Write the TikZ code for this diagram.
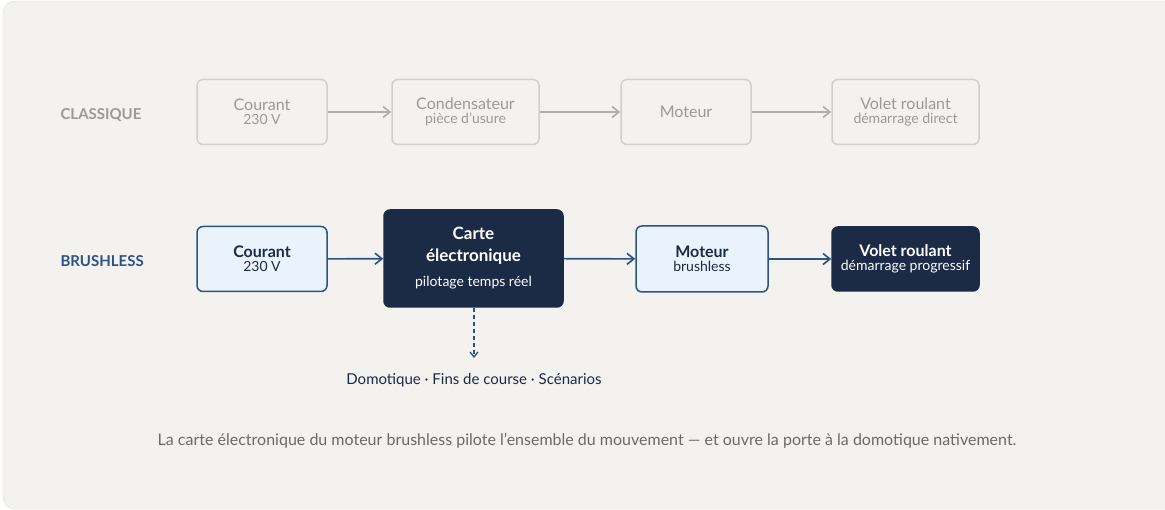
\documentclass[tikz,border=0pt]{standalone}
\usepackage{fontspec}
\setmainfont{Lato}
\usetikzlibrary{arrows.meta,positioning}
\definecolor{bgpage}{HTML}{F4F2EF}
\definecolor{bgline}{HTML}{DDDAD5}
\definecolor{oldline}{HTML}{D2D0CB}
\definecolor{oldtext}{HTML}{9C9A97}
\definecolor{navy}{HTML}{1B2A45}
\definecolor{bluline}{HTML}{2D5286}
\definecolor{bluefill}{HTML}{EAF2FC}
\definecolor{capgray}{HTML}{6A6A6A}
\tikzset{
  oldbox/.style={draw=oldline, line width=1.5pt, rounded corners=6pt, fill=bgpage, text=oldtext, align=center, inner sep=0pt},
  newbox/.style={draw=bluline, line width=1.5pt, rounded corners=6pt, fill=bluefill, text=navy, align=center, inner sep=0pt},
  darkbox/.style={draw=navy, line width=1.5pt, rounded corners=6pt, fill=navy, text=white, align=center, inner sep=0pt},
  oldarrow/.style={draw=oldtext!80, line width=1.6pt, -{Straight Barb[length=7pt,width=11pt]}},
  newarrow/.style={draw=bluline, line width=1.6pt, -{Straight Barb[length=7pt,width=11pt]}},
  rowlabel/.style={anchor=west, font=\fontsize{15}{18}\selectfont\bfseries}
}
\newcommand{\ttl}[1]{{\fontsize{16}{20}\selectfont #1}}
\newcommand{\sub}[1]{{\normalfont\fontsize{14}{18}\selectfont #1}}
\begin{document}
\begin{tikzpicture}[x=1pt,y=-1pt]
\useasboundingbox (0,0) rectangle (1165,510);
\draw[bgline, fill=bgpage, rounded corners=12pt] (3,1) rectangle (1180,509);

% classique
\node[rowlabel, text=oldtext] (lclass) at (57,115) {CLASSIQUE};
\node[oldbox, minimum width=130pt, minimum height=65pt] (c1) at (262,112) {\ttl{Courant}\\[2pt]\sub{230 V}};
\node[oldbox, minimum width=147pt, minimum height=65pt] (c2) at (465.5,112) {\ttl{Condensateur}\\[2pt]\sub{pièce d'usure}};
\node[oldbox, minimum width=130pt, minimum height=65pt] (c3) at (686,112) {\ttl{Moteur}};
\node[oldbox, minimum width=147pt, minimum height=65pt] (c4) at (905.5,112) {\ttl{Volet roulant}\\[2pt]\sub{démarrage direct}};
\draw[oldarrow] (c1) -- (c2);
\draw[oldarrow] (c2) -- (c3);
\draw[oldarrow] (c3) -- (c4);

% brushless
\node[rowlabel, text=bluline] (lbrush) at (57,261) {BRUSHLESS};
\node[newbox, minimum width=130pt, minimum height=65pt] (b1) at (262,259) {\ttl{\bfseries Courant}\\[2pt]\sub{230 V}};
\node[darkbox, minimum width=179pt, minimum height=97pt, font=\fontsize{17}{22}\selectfont\bfseries] (b2) at (473.5,258.5) {Carte\\électronique\\[3pt]\sub{pilotage temps réel}};
\node[newbox, minimum width=132pt, minimum height=66pt] (b3) at (702,259) {\ttl{\bfseries Moteur}\\[2pt]\sub{brushless}};
\node[darkbox, minimum width=147pt, minimum height=64pt] (b4) at (905.5,259) {\ttl{\bfseries Volet roulant}\\[2pt]\sub{démarrage progressif}};
\draw[newarrow] (b1) -- (b2);
\draw[newarrow] (b2) -- (b3);
\draw[newarrow] (b3) -- (b4);

\node[text=navy, font=\fontsize{15}{18}\selectfont] (domo) at (474,380) {Domotique · Fins de course · Scénarios};
\coordinate (dend) at (474,358);
\draw[bluline, line width=1.3pt, dash pattern=on 4pt off 3pt, -{Straight Barb[length=5pt,width=8pt]}] (b2.south -| dend) -- (dend);

\node[text=capgray, font=\fontsize{16}{20}\selectfont] (cap) at (587,441) {La carte électronique du moteur brushless pilote l'ensemble du mouvement — et ouvre la porte à la domotique nativement.};
\end{tikzpicture}
\end{document}
